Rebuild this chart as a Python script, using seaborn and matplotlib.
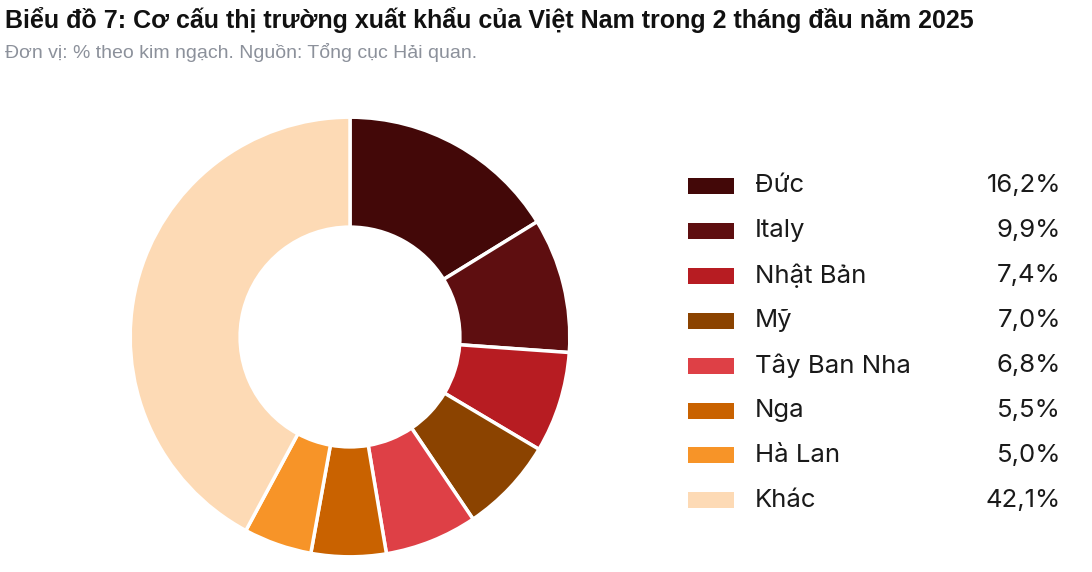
import matplotlib
matplotlib.use('Agg')
import matplotlib.pyplot as plt
from matplotlib.patches import Rectangle
import seaborn as sns

# dữ liệu
thi_truong = ['Đức', 'Italy', 'Nhật Bản', 'Mỹ', 'Tây Ban Nha', 'Nga', 'Hà Lan', 'Khác']
ty_trong = [16.2, 9.9, 7.4, 7.0, 6.8, 5.5, 5.0, 42.1]
mau = ['#430808', '#5e0e10', '#b71c22', '#8b4300', '#de4046', '#c96200', '#f79428', '#fddab5']

sns.set_theme(style='white')
plt.rcParams['font.family'] = ['Liberation Sans', 'DejaVu Sans']

fig = plt.figure(figsize=(10.92, 5.72), dpi=100)
W, H = 1092, 572

# donut
cx, cy, r = 350, 337, 222
ax = fig.add_axes([(cx - r) / W, (H - cy - r) / H, 2 * r / W, 2 * r / H])
ax.pie(ty_trong, colors=mau, startangle=90, counterclock=False, radius=1,
       wedgeprops=dict(width=0.5, edgecolor='white', linewidth=2.5))
ax.set_xlim(-1.01, 1.01)
ax.set_ylim(-1.01, 1.01)
ax.set_aspect('equal')
ax.axis('off')

# tiêu đề
fig.text(5 / W, 1 - 20 / H, 'Biểu đồ 7: Cơ cấu thị trường xuất khẩu của Việt Nam trong 2 tháng đầu năm 2025',
         fontsize=18, fontweight='bold', color='#111111', va='center', ha='left')
fig.text(5 / W, 1 - 52 / H, 'Đơn vị: % theo kim ngạch. Nguồn: Tổng cục Hải quan.',
         fontsize=14, color='#8c919b', va='center', ha='left')

# chú giải
y0, dy = 186, 44.9
for i, (ten, v, c) in enumerate(zip(thi_truong, ty_trong, mau)):
    y = y0 + i * dy
    fig.patches.append(Rectangle((688 / W, 1 - (y + 8) / H), 46 / W, 16 / H,
                                 transform=fig.transFigure, facecolor=c, edgecolor='none'))
    fig.text(755 / W, 1 - y / H, ten, fontsize=18.5, color='#1a1a1a',
             family=['Inter', 'DejaVu Sans'], va='center', ha='left')
    fig.text(1061 / W, 1 - y / H, f'{v:.1f}%'.replace('.', ','), fontsize=18.5,
             color='#1a1a1a', family=['Inter', 'DejaVu Sans'], va='center', ha='right')

fig.savefig('out.png', dpi=100, facecolor='white')
